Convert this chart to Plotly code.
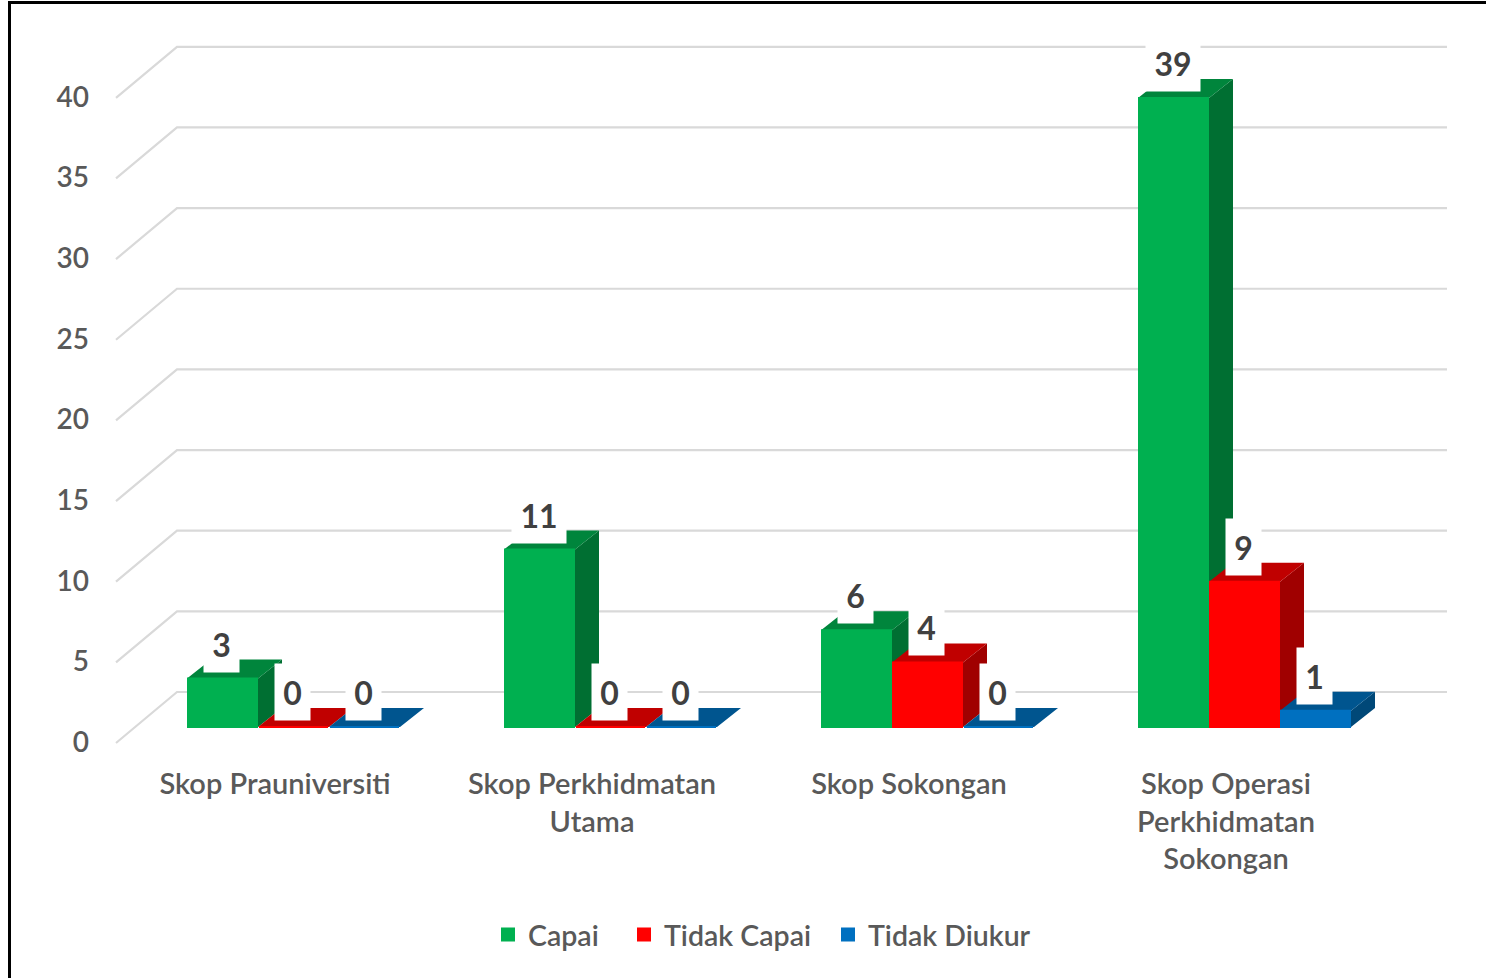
import plotly.graph_objects as go

categories = ["Skop Prauniversiti", "Skop Perkhidmatan<br>Utama", "Skop Sokongan",
              "Skop Operasi<br>Perkhidmatan<br>Sokongan"]
capai = [3, 11, 6, 39]
tidak_capai = [0, 0, 4, 9]
tidak_diukur = [0, 0, 0, 1]
series_names = ["Capai", "Tidak Capai", "Tidak Diukur"]
front_colors = ["#00B050", "#FF0000", "#0070C0"]
top_colors = ["#00853C", "#C00000", "#00558F"]
side_colors = ["#006F32", "#A00000", "#004878"]
value_ticks = [0, 5, 10, 15, 20, 25, 30, 35, 40]

W, H = 1486, 978
L, R, T, B = 90, 26, 10, 978 - 764
PX_X = 317.0      # pixels per category
PX_Y = 16.13      # pixels per value unit
X0 = 293.5        # pixel of first category centre
Y0 = 727.0        # pixel of value 0 on front plane
GROUP = 213.0
BAR = GROUP / 3 / PX_X
DX, DY = 24 / PX_X, 19 / PX_Y
def xu(px): return (px - X0) / PX_X
def yu(px): return (Y0 - px) / PX_Y
all_series = [capai, tidak_capai, tidak_diukur]
fig = go.Figure()

# wall gridlines
gx, gy = [], []
for v in value_ticks:
    f = v + yu(743)
    b = v + yu(692)
    gx += [xu(116), xu(177), xu(1447), None]
    gy += [f, b, b, None]
fig.add_trace(go.Scatter(x=gx, y=gy, mode="lines", line=dict(color="#D9D9D9", width=2.2),
                         hoverinfo="skip", showlegend=False, zorder=0))

for k, (name, vals) in enumerate(zip(series_names, all_series)):
    sx, sy, tx, ty = [], [], [], []
    for i, v in enumerate(vals):
        left = i - GROUP / 2 / PX_X + k * BAR
        right = left + BAR
        sx += [right, right, right + DX, right + DX, right, None]
        sy += [0, v, v + DY, DY, 0, None]
        tx += [left, right, right + DX, left + DX, left, None]
        ty += [v, v, v + DY, v + DY, v, None]
    fig.add_trace(go.Scatter(x=sx, y=sy, mode="none", fill="toself", fillcolor=side_colors[k],
                             hoverinfo="skip", showlegend=False, zorder=2 * k + 1))
    fig.add_trace(go.Scatter(x=tx, y=ty, mode="none", fill="toself", fillcolor=top_colors[k],
                             hoverinfo="skip", showlegend=False, zorder=2 * k + 1))
    fig.add_trace(go.Bar(x=list(range(4)), y=vals, name=name,
                         marker=dict(color=front_colors[k], line=dict(color=front_colors[k], width=2)),
                         legend="legend" if k == 0 else f"legend{k+1}", zorder=2 * k + 2))

annotations = []
for k, vals in enumerate(all_series):
    for i, v in enumerate(vals):
        cx = i - GROUP / 2 / PX_X + (k + 0.5) * BAR - 1 / PX_X
        annotations.append(dict(x=cx, y=v + 35 / PX_Y, text=str(v), showarrow=False,
                                bgcolor="white", height=54, width=33 if v < 10 else 52,
                                font=dict(family="Lato", size=32, color="#404040", weight="bold"),
                                xanchor="center", yanchor="middle", valign="middle"))

def px(x): return (x - L) / (W - L - R)
def py(y): return 1 - (y - T) / (H - T - B)
frame = dict(type="line", xref="paper", yref="paper", line=dict(color="black", width=3), layer="above")
shapes = [dict(frame, x0=px(9.5), x1=px(9.5), y0=py(2.5), y1=py(980)),
          dict(frame, x0=px(8), x1=px(1490), y0=py(2.5), y1=py(2.5))]

legend_font = dict(family="Lato", size=28.5, color="#595959", weight=600)
def leg(x):
    return dict(x=px(x), y=py(935), xanchor="left", yanchor="middle", orientation="h",
                font=legend_font, bgcolor="rgba(0,0,0,0)", itemclick=False)

fig.update_layout(
    width=W, height=H, margin=dict(l=L, r=R, t=T, b=B, pad=0),
    paper_bgcolor="white", plot_bgcolor="white", barmode="group",
    bargap=1 - GROUP / PX_X, bargroupgap=2 / 71, showlegend=True,
    xaxis=dict(range=[xu(L), xu(W - R)], tickvals=[i - 18.5 / PX_X for i in range(4)],
               ticktext=categories, showgrid=False, zeroline=False, showline=False, ticks="",
               tickangle=0, tickfont=dict(family="Lato", size=29, color="#595959", weight=600)),
    yaxis=dict(range=[yu(H - B), yu(T)], tickvals=[v + yu(742) for v in value_ticks],
               ticktext=[str(v) for v in value_ticks], showgrid=False, zeroline=False,
               showline=False, ticks="",
               tickfont=dict(family="Lato", size=28, color="#595959", weight=600)),
    legend=leg(488), legend2=leg(624), legend3=leg(828),
    annotations=annotations, shapes=shapes,
)
fig.write_html("out.html", post_script="document.body.style.margin='0';",
               config={"displayModeBar": False})
